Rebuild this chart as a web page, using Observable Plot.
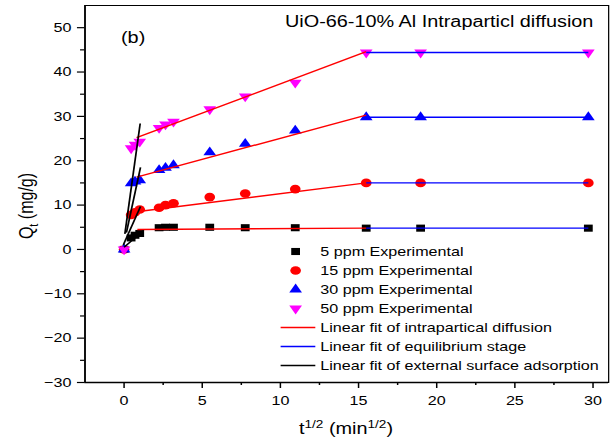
<!DOCTYPE html>
<html><head><meta charset="utf-8">
<script src="https://cdn.jsdelivr.net/npm/d3@7"></script>
<script src="https://cdn.jsdelivr.net/npm/@observablehq/plot@0.6"></script>
<style>
html,body{margin:0;padding:0;background:#fff;}
#chart svg{display:block;}
</style></head><body><div id="chart"></div>
<script>
// ---- data ----
const sqrtT = [0, 0.45, 0.7, 1.0, 2.24, 2.65, 3.16, 5.48, 7.75, 10.95, 15.49, 18.97, 29.7];
const q5  = [0, 2.6, 3.2, 3.6, 4.9, 5.0, 5.0, 5.0, 4.9, 4.9, 4.8, 4.8, 4.8];
const q15 = [0, 7.8, 8.4, 9.0, 9.4, 10.0, 10.4, 11.8, 12.6, 13.6, 15.0, 15.0, 15.0];
const q30 = [0, 14.9, 15.3, 15.6, 17.9, 18.4, 19.0, 21.9, 23.8, 26.8, 29.8, 29.8, 29.8];
const q50 = [0, 22.8, 23.6, 24.3, 27.4, 28.2, 28.8, 31.6, 34.5, 37.6, 44.4, 44.4, 44.4];
const seriesNames = ["5 ppm Experimental", "15 ppm Experimental", "30 ppm Experimental", "50 ppm Experimental"];
const fitNames = ["Linear fit of intrapartical diffusion", "Linear fit of equilibrium stage", "Linear fit of external surface adsorption"];
// fit segments per series [x1, y1, x2, y2]
const intraFit = [[0.85, 4.5, 15.49, 4.8], [0.8, 8.5, 15.49, 15.0], [0.8, 16.3, 15.49, 30.3], [0.8, 25.2, 15.49, 44.6]];
const equilFit = [[15.49, 4.8, 29.7, 4.8], [15.49, 15.0, 29.7, 15.0], [15.49, 29.8, 29.7, 29.8], [15.49, 44.4, 29.7, 44.4]];
const externalFit = [[0.0, 0.5, 1.25, 4.3], [-0.05, 1.0, 1.05, 9.7], [0.15, 3.8, 1.05, 18.5], [0.05, 3.5, 1.03, 28.4]];
const yMajor = [-30, -20, -10, 0, 10, 20, 30, 40, 50];
const yMinor = [-25, -15, -5, 5, 15, 25, 35, 45];
const xMajor = [0, 5, 10, 15, 20, 25, 30];
const xMinor = [2.5, 7.5, 12.5, 17.5, 22.5, 27.5];

// ---- layout ----
const W = 613, H = 443, W0 = 494, S = W / W0;
const mL = 68, mR = 4, mT = 5, mB = 61;
const xDomain = [-2.5, 31], yDomain = [-30, 55];
const toX = px => xDomain[0] + (px / S - mL) / (W0 - mL - mR) * (xDomain[1] - xDomain[0]);
const toY = py => yDomain[1] - (py - mT) / (H - mT - mB) * (yDomain[1] - yDomain[0]);

const triDown = {draw(context, size) {
  const y = -Math.sqrt(size / (3 * Math.sqrt(3)));
  context.moveTo(0, -y * 2);
  context.lineTo(-Math.sqrt(3) * y, y);
  context.lineTo(Math.sqrt(3) * y, y);
  context.closePath();
}};
const colors = ["#000000", "#ff0000", "#0000ff", "#ff00ff"];
const symbols = ["square", "circle", "triangle", triDown];
const radii = [4, 4.3, 3.8, 3.8];
const qs = [q5, q15, q30, q50];
const fitColors = ["#ff0000", "#0000ff", "#000000"];

const dotMarks = qs.map((q, k) => Plot.dot(sqrtT.map((x, i) => ({x, y: q[i]})), {
  x: "x", y: "y", symbol: symbols[k], r: radii[k], fill: colors[k], stroke: "none"
}));
const seg = (arr, color) => Plot.link(arr, {
  x1: d => d[0], y1: d => d[1], x2: d => d[2], y2: d => d[3], stroke: color, strokeWidth: 1.4
});

// legend
const rowPx = [251, 270, 289, 308, 327, 346, 365];
const legendDots = seriesNames.map((n, k) => Plot.dot([0], {
  x: () => toX(295), y: () => toY(rowPx[k]), symbol: symbols[k], r: radii[k], fill: colors[k], stroke: "none"
}));
const legendLines = fitNames.map((n, k) => Plot.link([0], {
  x1: () => toX(280), x2: () => toX(314.7), y1: () => toY(rowPx[4 + k]), y2: () => toY(rowPx[4 + k]),
  stroke: fitColors[k], strokeWidth: 1.4
}));
const legendText = Plot.text(seriesNames.concat(fitNames), {
  x: () => toX(319.7), y: (d, i) => toY(rowPx[i]), text: d => d, textAnchor: "start", fontSize: 13, fill: "black"
});

const svg = Plot.plot({
  width: W0, height: H,
  marginLeft: mL, marginRight: mR, marginTop: mT, marginBottom: mB,
  x: {domain: xDomain, axis: null},
  y: {domain: yDomain, axis: null},
  style: {fontFamily: "Arial, 'Liberation Sans', sans-serif", fontSize: "13px", background: "white", color: "black"},
  marks: [
    Plot.frame({stroke: "black", strokeWidth: 1}),
    Plot.axisY(yMajor, {anchor: "left", tickSize: 6, tickPadding: 5, fontSize: 13, label: null, strokeWidth: 1.2}),
    Plot.axisY(yMinor, {anchor: "left", tickSize: 3.5, tickFormat: () => "", label: null, strokeWidth: 1.2}),
    Plot.axisX(xMajor, {anchor: "bottom", tickSize: 6, tickPadding: 7, fontSize: 13, label: null, strokeWidth: 1.2}),
    Plot.axisX(xMinor, {anchor: "bottom", tickSize: 3, tickFormat: () => "", label: null, strokeWidth: 1.2}),
    Plot.ruleX([xDomain[0]], {stroke: "black", strokeWidth: 1.3}),
    Plot.ruleY([yDomain[0]], {stroke: "black", strokeWidth: 1.4}),
    ...dotMarks,
    seg(intraFit, fitColors[0]),
    seg(equilFit, fitColors[1]),
    seg(externalFit, fitColors[2]),
    ...legendDots,
    ...legendLines,
    legendText
  ]
});

const s = d3.select(svg);
const font = "Arial, 'Liberation Sans', sans-serif";
s.append("text").attr("x", 285 / S).attr("y", 27.3).attr("text-anchor", "start").attr("font-size", 16).attr("font-family", font).attr("fill", "black")
  .text("UiO-66-10% Al Intraparticl diffusion");
s.append("text").attr("x", 121 / S).attr("y", 43).attr("text-anchor", "start").attr("font-size", 16).attr("font-family", font).attr("fill", "black")
  .text("(b)");
// y title
const yt = s.append("text").attr("transform", `translate(${33 / S},206) rotate(-90)`).attr("text-anchor", "middle")
  .attr("font-size", 16).attr("font-family", font).attr("fill", "black");
yt.append("tspan").text("Q");
yt.append("tspan").attr("font-size", 11).attr("dy", 4).text("t");
yt.append("tspan").attr("dy", -4).text(" (mg/g)");
// x title
const xt = s.append("text").attr("x", 346 / S).attr("y", 434.5).attr("text-anchor", "middle")
  .attr("font-size", 16).attr("font-family", font).attr("fill", "black");
xt.append("tspan").text("t");
xt.append("tspan").attr("font-size", 11).attr("dy", -6).text("1/2");
xt.append("tspan").attr("dy", 6).text(" (min");
xt.append("tspan").attr("font-size", 11).attr("dy", -6).text("1/2");
xt.append("tspan").attr("dy", 6).text(")");

svg.setAttribute("width", W);
svg.setAttribute("height", H);
svg.setAttribute("preserveAspectRatio", "none");
svg.style.width = W + "px";
svg.style.height = H + "px";
svg.style.maxWidth = "none";
document.getElementById("chart").appendChild(svg);
</script>
</body></html>
